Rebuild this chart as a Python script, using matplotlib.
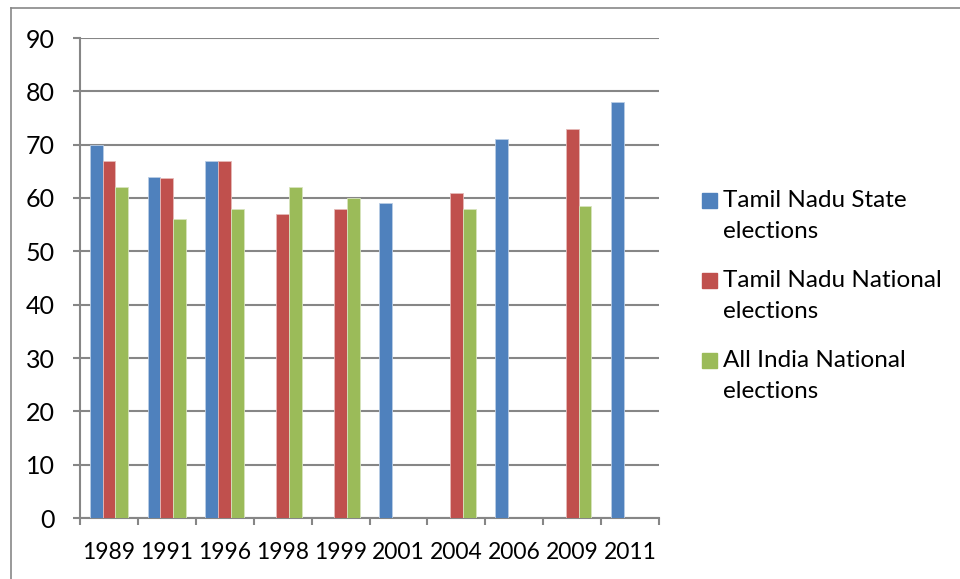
import numpy as np
import matplotlib
matplotlib.use("Agg")
import matplotlib.pyplot as plt
from matplotlib.patches import Rectangle
from matplotlib.lines import Line2D

plt.rcParams['font.family'] = ['Lato', 'DejaVu Sans']

years = ["1989", "1991", "1996", "1998", "1999", "2001", "2004", "2006", "2009", "2011"]
series_names = ["Tamil Nadu State\nelections",
                "Tamil Nadu National\nelections",
                "All India National\nelections"]
tn_state = [70, 64, 67, 0, 0, 59, 0, 71, 0, 78]
tn_national = [67, 63.8, 67, 57, 58, 0, 61, 0, 73, 0]
all_india = [62, 56, 58, 62, 60, 0, 58, 0, 58.5, 0]
colors = ["#4F81BD", "#C0504D", "#9BBB59"]
edges = ["#B9CDE5", "#E6B9B8", "#D7E4BD"]

W, H = 960, 579
fig = plt.figure(figsize=(W / 100, H / 100), dpi=100)
ax = fig.add_axes([80 / W, 1 - 518 / H, (659 - 80) / W, (518 - 38) / H])

grey = "#868686"
x = np.arange(len(years))
w = 1 / 4.5
for i, vals in enumerate([tn_state, tn_national, all_india]):
    ax.bar(x + (i - 1) * w, vals, width=w, color=colors[i],
           edgecolor=edges[i], linewidth=0.6, zorder=3)

ax.set_xlim(-0.5, len(years) - 0.5)
ax.set_ylim(0, 90)
ax.set_yticks(np.arange(0, 91, 10))
ax.grid(axis="y", color=grey, linewidth=1.5, zorder=0)
ax.set_axisbelow(True)

for s in ["top", "right"]:
    ax.spines[s].set_visible(False)
for s in ["left", "bottom"]:
    ax.spines[s].set_color(grey)
    ax.spines[s].set_linewidth(1.5)

ax.set_xticks(x)
ax.set_xticklabels(years)
ax.set_xticks(np.arange(-0.5, len(years)), minor=True)
ax.tick_params(axis="x", which="major", length=0, pad=17, labelsize=16.5)
ax.tick_params(axis="x", which="minor", length=5, width=1.5, color=grey)
ax.tick_params(axis="y", length=5, width=1.5, color=grey, pad=13, labelsize=18)

# legend drawn by hand so the square sits next to the first line
for i, name in enumerate(series_names):
    ytop = 200 + i * 80
    fig.patches.append(Rectangle((702 / W, 1 - (ytop + 7.5) / H), 15 / W, 15 / H,
                                 transform=fig.transFigure, color=colors[i]))
    fig.text(723 / W, 1 - (ytop + 16) / H, name, fontsize=17.5, va="center",
             ha="left", linespacing=1.55)

# outer chart border (only top and left edges show in the crop)
fig.add_artist(Line2D([11 / W, 1], [1 - 8 / H, 1 - 8 / H], color="#878787", lw=1.2))
fig.add_artist(Line2D([11 / W, 11 / W], [0, 1 - 8 / H], color="#878787", lw=1.2))

fig.savefig("out.png", dpi=100)
